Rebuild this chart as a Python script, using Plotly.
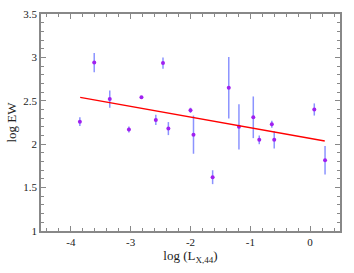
import plotly.graph_objects as go

log_lx = [-3.85, -3.61, -3.35, -3.03, -2.82, -2.58, -2.46, -2.37, -2.00, -1.95,
          -1.63, -1.36, -1.19, -0.95, -0.85, -0.64, -0.60, 0.07, 0.25]
log_ew = [2.26, 2.94, 2.52, 2.17, 2.54, 2.28, 2.935, 2.18, 2.39, 2.11,
          1.62, 2.65, 2.20, 2.31, 2.05, 2.23, 2.05, 2.40, 1.815]
ew_err = [0.05, 0.11, 0.10, 0.035, 0.01, 0.06, 0.065, 0.075, 0.03, 0.22,
          0.08, 0.355, 0.26, 0.24, 0.05, 0.04, 0.10, 0.07, 0.165]

fit_x = [-3.845, 0.245]
fit_y = [2.54, 2.037]

x_ticks = [-4, -3, -2, -1, 0]
x_ticktext = ["-4", "-3", "-2", "-1", "0"]
y_ticks = [1, 1.5, 2, 2.5, 3, 3.5]
y_ticktext = ["1", "1.5", "2", "2.5", "3", "3.5"]

fig = go.Figure()
fig.add_trace(go.Scatter(
    x=log_lx, y=log_ew, mode="markers",
    marker=dict(color="#a020f0", size=4, symbol="circle"),
    error_y=dict(type="data", array=ew_err, visible=True,
                 color="rgba(110,120,255,0.8)", thickness=1.5, width=0),
    showlegend=False,
))
fig.add_trace(go.Scatter(
    x=fit_x, y=fit_y, mode="lines",
    line=dict(color="#ff0000", width=1.3), showlegend=False,
))

axis_common = dict(
    showgrid=False, zeroline=False, showline=True, linecolor="#888888",
    linewidth=1.5, mirror="allticks", ticks="inside", ticklen=5, tickwidth=1,
    tickcolor="#888888", automargin=False,
    tickfont=dict(family="Liberation Serif", size=11, color="#222222"),
)

fig.update_xaxes(
    range=[-4.5, 0.5], tickvals=x_ticks, ticktext=x_ticktext,
    minor=dict(ticks="inside", dtick=0.2, ticklen=3, tickcolor="#888888", showgrid=False),
    title=dict(text="log (L<sub>X,44</sub>)", standoff=4,
               font=dict(family="Liberation Serif", size=13, color="#222222")),
    **axis_common,
)
fig.update_yaxes(
    range=[1, 3.5], tickvals=y_ticks, ticktext=y_ticktext,
    minor=dict(ticks="inside", dtick=0.1, ticklen=3, tickcolor="#888888", showgrid=False),
    title=dict(text="log EW", standoff=4,
               font=dict(family="Liberation Serif", size=13, color="#222222")),
    **axis_common,
)
fig.update_layout(
    width=354, height=273,
    margin=dict(l=41, r=14, t=14, b=42),
    paper_bgcolor="white", plot_bgcolor="white",
)
fig.write_html("out.html", config={"displayModeBar": False},
               post_script="document.body.style.margin='0';")
